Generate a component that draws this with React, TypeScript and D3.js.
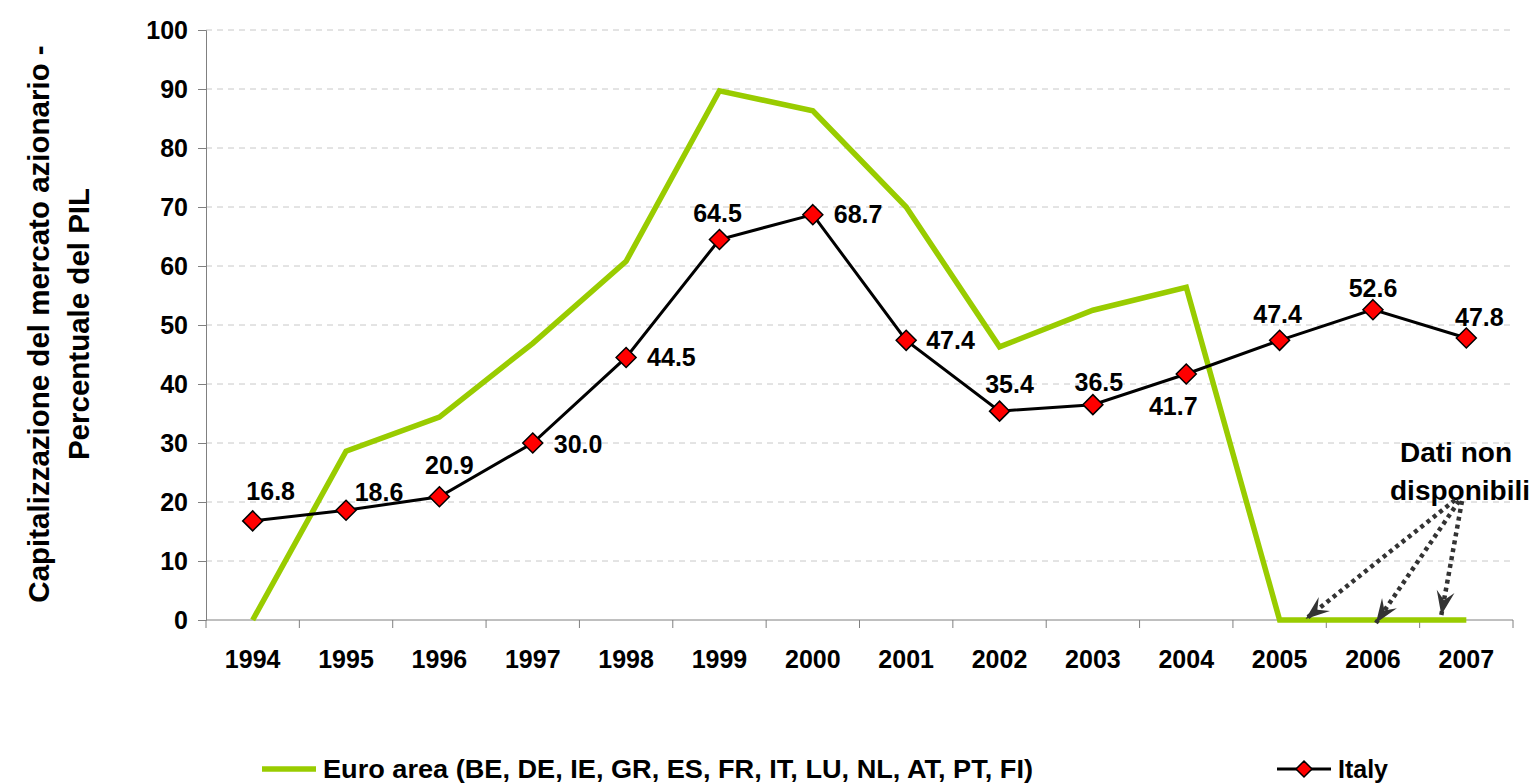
import React, { useEffect, useRef } from "react";
import * as d3 from "d3";

const years = ["1994", "1995", "1996", "1997", "1998", "1999", "2000", "2001", "2002", "2003", "2004", "2005", "2006", "2007"];
const euroArea = [0, 28.6, 34.4, 46.9, 60.8, 89.7, 86.3, 70.0, 46.3, 52.5, 56.4, 0, 0, 0];
const italy = [16.8, 18.6, 20.9, 30.0, 44.5, 64.5, 68.7, 47.4, 35.4, 36.5, 41.7, 47.4, 52.6, 47.8];
const yTicks = [0, 10, 20, 30, 40, 50, 60, 70, 80, 90, 100];
const missingYears = ["2005", "2006", "2007"];

// label placement for each Italy point: [dx, dy, anchor]
const labelOffsets: [number, number, string][] = [
  [18, -21, "middle"],
  [33, -9, "middle"],
  [10, -23, "middle"],
  [21, 10, "start"],
  [21, 9, "start"],
  [-2, -17, "middle"],
  [21, 8, "start"],
  [20, 9, "start"],
  [10, -18, "middle"],
  [6, -14, "middle"],
  [-13, 41, "middle"],
  [-2, -17, "middle"],
  [0, -13, "middle"],
  [13, -12, "middle"],
];

const W = 1538;
const H = 784;
const FONT = "'Liberation Sans', Arial, sans-serif";

const App = () => {
  const svgRef = useRef<SVGSVGElement>(null);

  useEffect(() => {
    const svg = d3.select(svgRef.current);
    svg.selectAll("*").remove();

    const x = d3.scaleBand().domain(years).range([206, 1513]);
    const y = d3.scaleLinear().domain([0, 100]).range([620, 30]);
    const cx = (d: string) => (x(d) as number) + x.bandwidth() / 2;

    const defs = svg.append("defs");
    defs.append("marker")
      .attr("id", "arrow")
      .attr("viewBox", "-26 -10 28 20")
      .attr("markerWidth", 28)
      .attr("markerHeight", 20)
      .attr("markerUnits", "userSpaceOnUse")
      .attr("refX", 0)
      .attr("refY", 0)
      .attr("orient", "auto")
      .append("path")
      .attr("d", "M0,0 L-24,-9 L-15,0 L-24,9 Z")
      .attr("fill", "#333");

    // gridlines
    svg.append("g")
      .selectAll("line")
      .data(yTicks.filter(t => t > 0))
      .join("line")
      .attr("x1", 206)
      .attr("x2", 1513)
      .attr("y1", d => y(d))
      .attr("y2", d => y(d))
      .attr("stroke", "#c8c8c8")
      .attr("stroke-width", 1)
      .attr("stroke-dasharray", "6,5");

    // y axis
    const yAxis = d3.axisLeft(y).tickValues(yTicks).tickSize(8).tickPadding(10).tickFormat(d3.format("d"));
    const gy = svg.append("g").attr("transform", "translate(206,0)").call(yAxis);
    gy.select(".domain").attr("stroke", "#808080");
    gy.selectAll(".tick line").attr("stroke", "#808080");
    gy.selectAll("text")
      .attr("font-family", FONT)
      .attr("font-weight", "bold")
      .attr("font-size", 25)
      .attr("fill", "#000");

    // x axis: ticks at band boundaries
    const gx = svg.append("g").attr("transform", "translate(0,620)");
    gx.append("line").attr("x1", 206).attr("x2", 1513).attr("stroke", "#808080");
    gx.selectAll("line.tk")
      .data(years.concat(["end"]))
      .join("line")
      .attr("class", "tk")
      .attr("x1", (d, i) => 206 + i * x.step())
      .attr("x2", (d, i) => 206 + i * x.step())
      .attr("y1", 0)
      .attr("y2", 8)
      .attr("stroke", "#808080");
    gx.selectAll("text")
      .data(years)
      .join("text")
      .attr("x", d => cx(d))
      .attr("y", 48)
      .attr("text-anchor", "middle")
      .attr("font-family", FONT)
      .attr("font-weight", "bold")
      .attr("font-size", 25)
      .text(d => d);

    // euro area line
    const line = d3.line<number>().x((d, i) => cx(years[i])).y(d => y(d));
    svg.append("path")
      .datum(euroArea)
      .attr("d", line)
      .attr("fill", "none")
      .attr("stroke", "#99cc00")
      .attr("stroke-width", 5.5);

    // italy line
    svg.append("path")
      .datum(italy)
      .attr("d", line)
      .attr("fill", "none")
      .attr("stroke", "#000")
      .attr("stroke-width", 3);

    const diamond = "M0,-10 L10,0 L0,10 L-10,0 Z";
    svg.append("g")
      .selectAll("path")
      .data(italy)
      .join("path")
      .attr("transform", (d, i) => `translate(${cx(years[i])},${y(d)})`)
      .attr("d", diamond)
      .attr("fill", "#ff0000")
      .attr("stroke", "#000")
      .attr("stroke-width", 1.5);

    svg.append("g")
      .selectAll("text")
      .data(italy)
      .join("text")
      .attr("x", (d, i) => cx(years[i]) + labelOffsets[i][0])
      .attr("y", (d, i) => y(d) + labelOffsets[i][1])
      .attr("text-anchor", (d, i) => labelOffsets[i][2])
      .attr("font-family", FONT)
      .attr("font-weight", "bold")
      .attr("font-size", 25)
      .text(d => d.toFixed(1));

    // annotation
    const ann = svg.append("g").attr("font-family", FONT).attr("font-weight", "bold").attr("font-size", 28).attr("text-anchor", "middle");
    ann.append("text").attr("x", 1456).attr("y", 462).text("Dati non");
    ann.append("text").attr("x", 1460).attr("y", 500).text("disponibili");

    const starts = [[1455, 500], [1459, 501], [1462, 501]];
    const endsX = [cx(missingYears[0]) + 26, cx(missingYears[1]) + 3, cx(missingYears[2]) - 25];
    const endsY = [619, 623, 615];
    svg.append("g")
      .selectAll("line")
      .data(endsX)
      .join("line")
      .attr("x1", (d, i) => starts[i][0])
      .attr("y1", (d, i) => starts[i][1])
      .attr("x2", d => d)
      .attr("y2", (d, i) => endsY[i])
      .attr("stroke", "#333")
      .attr("stroke-width", 4.5)
      .attr("stroke-dasharray", "4,4")
      .attr("marker-end", "url(#arrow)");

    // y title
    const yt = svg.append("text")
      .attr("transform", "translate(0,324) rotate(-90)")
      .attr("text-anchor", "middle")
      .attr("font-family", FONT)
      .attr("font-weight", "bold")
      .attr("font-size", 29.5);
    yt.append("tspan").attr("x", 0).attr("y", 49).text("Capitalizzazione del mercato azionario -");
    yt.append("tspan").attr("x", 0).attr("y", 89).text("Percentuale del PIL");

    // legend
    const lg = svg.append("g").attr("font-family", FONT).attr("font-weight", "bold").attr("font-size", 25);
    lg.append("line").attr("x1", 262).attr("x2", 316).attr("y1", 769).attr("y2", 769).attr("stroke", "#99cc00").attr("stroke-width", 5.5);
    lg.append("text").attr("x", 323).attr("y", 778)
      .attr("textLength", 710).attr("lengthAdjust", "spacingAndGlyphs")
      .text("Euro area (BE, DE, IE, GR, ES, FR, IT, LU, NL, AT, PT, FI)");
    lg.append("line").attr("x1", 1277).attr("x2", 1331).attr("y1", 769).attr("y2", 769).attr("stroke", "#000").attr("stroke-width", 3);
    lg.append("path").attr("transform", "translate(1304,769)").attr("d", "M0,-8 L8,0 L0,8 L-8,0 Z").attr("fill", "#ff0000").attr("stroke", "#000").attr("stroke-width", 1.5);
    lg.append("text").attr("x", 1338).attr("y", 778).text("Italy");
  }, []);

  return (
    <div style={{ position: "fixed", left: 0, top: 0, background: "#fff" }}>
      <svg ref={svgRef} width={W} height={H} />
    </div>
  );
};

export default App;
